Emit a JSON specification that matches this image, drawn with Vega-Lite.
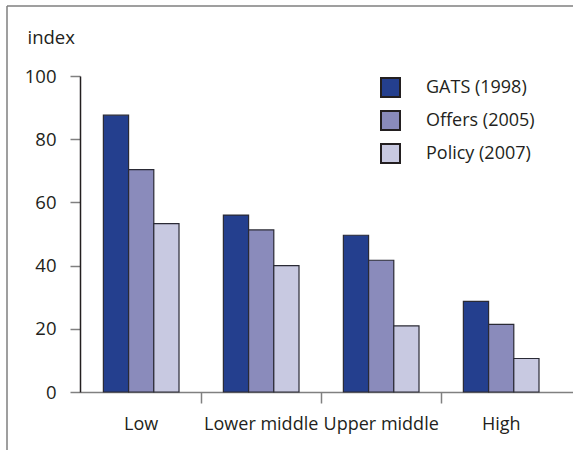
{
  "$schema": "https://vega.github.io/schema/vega-lite/v6.json",
  "width": 566,
  "height": 444,
  "autosize": "none",
  "padding": {"left": 7, "top": 6, "right": 0, "bottom": 0},
  "background": "white",
  "config": {
    "font": "Open Sans",
    "view": {"stroke": "#808080", "strokeWidth": 1.5, "strokeDash": [566, 1010, 444, 0]}
  },
  "data": {
    "values": [
      {"income": "Low", "series": "GATS (1998)", "value": 87.6},
      {"income": "Low", "series": "Offers (2005)", "value": 70.4},
      {"income": "Low", "series": "Policy (2007)", "value": 53.3},
      {"income": "Lower middle", "series": "GATS (1998)", "value": 56.0},
      {"income": "Lower middle", "series": "Offers (2005)", "value": 51.3},
      {"income": "Lower middle", "series": "Policy (2007)", "value": 40.0},
      {"income": "Upper middle", "series": "GATS (1998)", "value": 49.6},
      {"income": "Upper middle", "series": "Offers (2005)", "value": 41.7},
      {"income": "Upper middle", "series": "Policy (2007)", "value": 20.9},
      {"income": "High", "series": "GATS (1998)", "value": 28.7},
      {"income": "High", "series": "Offers (2005)", "value": 21.4},
      {"income": "High", "series": "Policy (2007)", "value": 10.6}
    ]
  },
  "mark": {"type": "bar", "stroke": "#2a2a35", "strokeWidth": 1.2},
  "encoding": {
    "x": {
      "field": "income",
      "type": "nominal",
      "sort": ["Low", "Lower middle", "Upper middle", "High"],
      "scale": {"range": [73, 566], "paddingInner": 0, "paddingOuter": 0.0542, "align": 0.092},
      "axis": {
        "title": null,
        "labelAngle": 0,
        "offset": -58,
        "bandPosition": 0,
        "tickSize": 11,
        "tickWidth": 1.5,
        "tickColor": {"condition": {"test": "datum.value === 'Low'", "value": "transparent"}, "value": "#808080"},
        "domainColor": "#808080",
        "domainWidth": 1.5,
        "labelFontSize": 18,
        "labelColor": "#231f20",
        "labelPadding": 12
      }
    },
    "xOffset": {
      "field": "series",
      "type": "nominal",
      "sort": ["GATS (1998)", "Offers (2005)", "Policy (2007)"],
      "scale": {"paddingInner": 0, "paddingOuter": 0.88}
    },
    "y": {
      "field": "value",
      "type": "quantitative",
      "scale": {"domain": [0, 100], "range": [386, 70], "nice": false},
      "axis": {
        "title": "index",
        "titleAngle": 0,
        "titleX": -53,
        "titleY": 37,
        "titleAlign": "left",
        "titleBaseline": "alphabetic",
        "titleFontSize": 18.5,
        "titleFontWeight": "normal",
        "titleColor": "#231f20",
        "offset": -73,
        "values": [0, 20, 40, 60, 80, 100],
        "grid": false,
        "tickSize": 10,
        "tickWidth": 1.5,
        "tickColor": "#808080",
        "domainColor": "#231f20",
        "domainWidth": 1.5,
        "labelFontSize": 18.5,
        "labelColor": "#231f20",
        "labelPadding": 14
      }
    },
    "color": {
      "field": "series",
      "type": "nominal",
      "sort": ["GATS (1998)", "Offers (2005)", "Policy (2007)"],
      "scale": {"range": ["#243f8e", "#8a8bbb", "#c8c9e1"]},
      "legend": {
        "title": null,
        "orient": "none",
        "legendX": 373,
        "legendY": 71,
        "symbolType": "square",
        "symbolSize": 361,
        "symbolStrokeColor": "#231f20",
        "symbolStrokeWidth": 2,
        "symbolOpacity": 1,
        "labelFontSize": 18,
        "labelColor": "#231f20",
        "labelOffset": 25,
        "rowPadding": 6,
        "padding": 0
      }
    }
  }
}
